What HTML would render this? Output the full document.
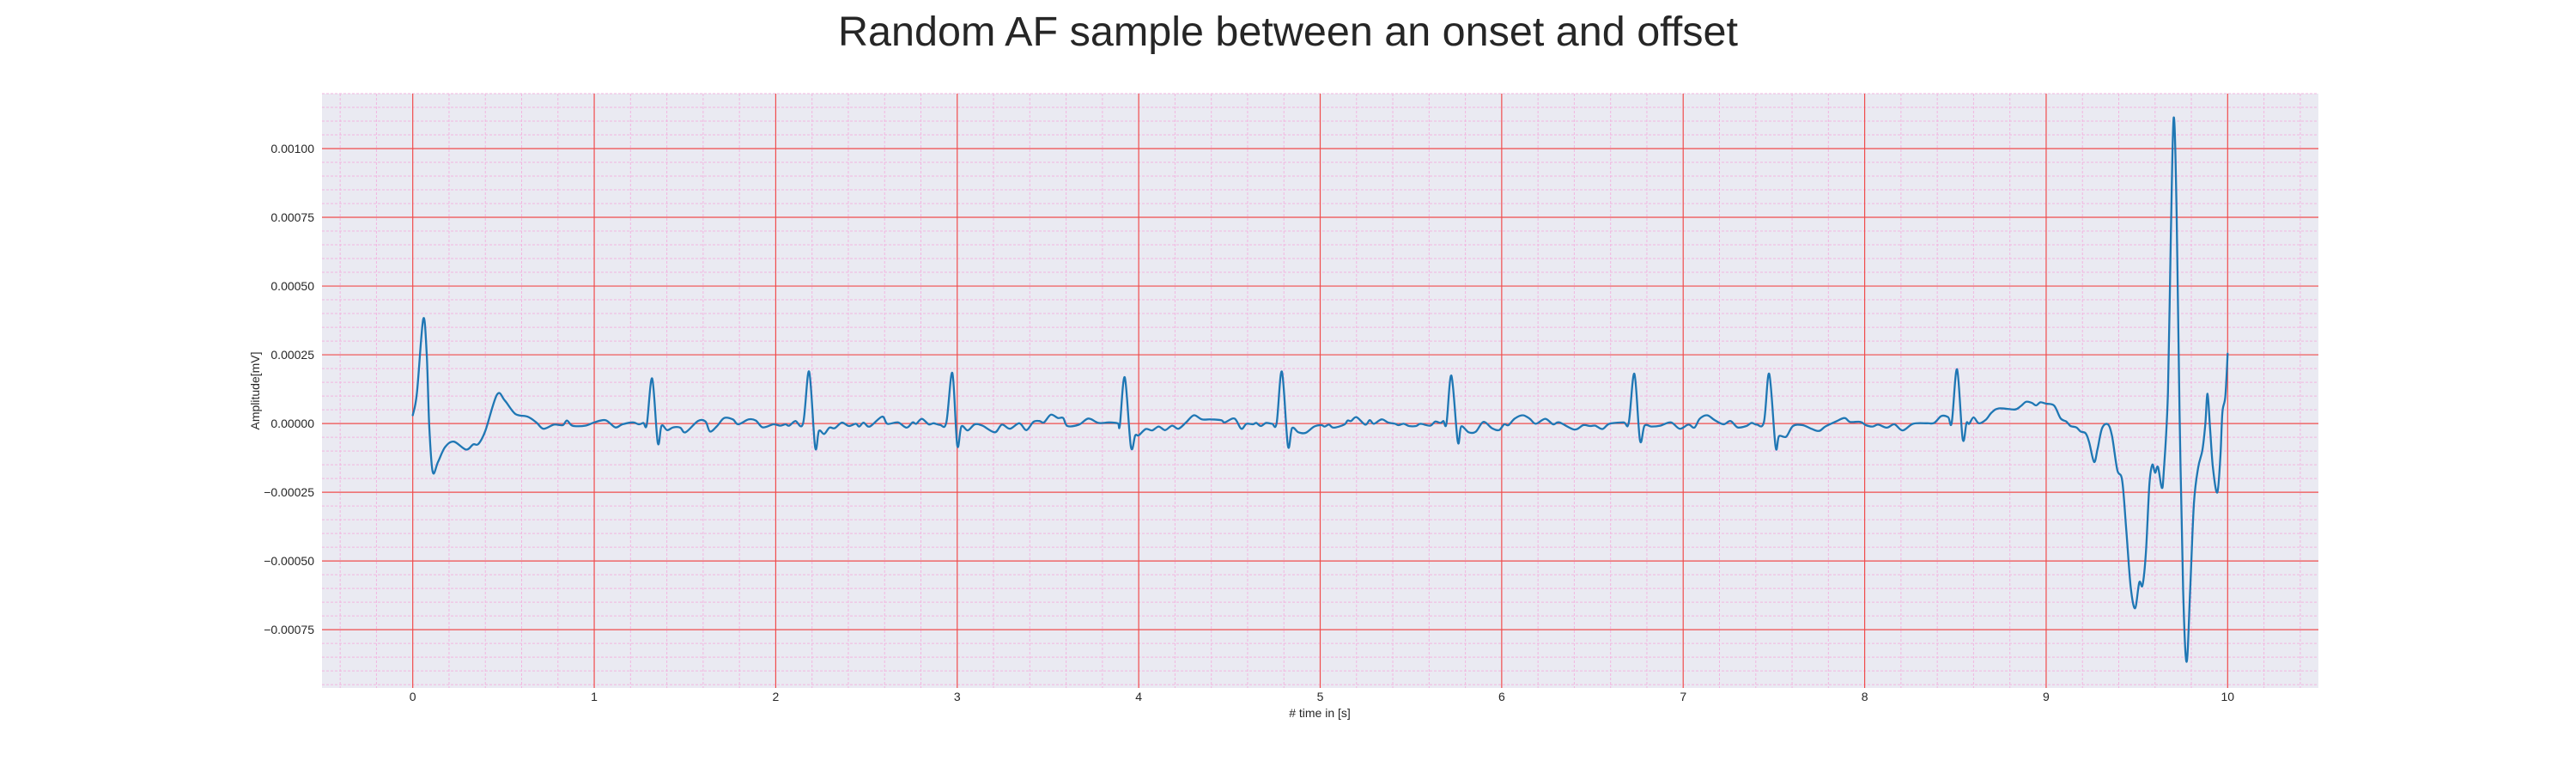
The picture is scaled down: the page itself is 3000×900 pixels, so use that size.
<!DOCTYPE html>
<html><head><meta charset="utf-8"><style>
html,body{margin:0;padding:0;background:#fff;}
svg{display:block;font-family:"Liberation Sans","DejaVu Sans",sans-serif;}
</style></head><body>
<svg id="chart" width="3000" height="900" viewBox="0 0 3000 900" xmlns="http://www.w3.org/2000/svg">
<text x="1500" y="53" text-anchor="middle" font-size="48.5" fill="#262626">Random AF sample between an onset and offset</text>
<rect x="375" y="109" width="2325" height="692" fill="#eaeaf2"/>
<g id="minor"></g>
<g id="major"></g>
<g id="ticks"></g>
<g id="series"></g>
<text x="1537" y="835" text-anchor="middle" font-size="14" fill="#262626"># time in [s]</text>
<text transform="translate(302,455) rotate(-90)" text-anchor="middle" font-size="14" fill="#262626">Amplitude[mV]</text>
</svg>
<script>
// data (amplitude in units of 1e-4 mV)
const times = [0,0.023,0.058,0.077,0.091,0.11,0.139,0.178,0.226,0.294,0.333,0.362,0.40,0.464,0.507,0.565,0.632,0.681,0.72,0.778,0.826,0.85,0.88,0.95,1.0,1.062,1.116,1.155,1.213,1.246,1.271,1.29,1.319,1.35,1.371,1.402,1.435,1.474,1.503,1.571,1.613,1.638,1.677,1.716,1.764,1.793,1.851,1.89,1.929,1.987,2.025,2.054,2.074,2.108,2.151,2.184,2.217,2.238,2.267,2.296,2.325,2.364,2.403,2.441,2.46,2.484,2.518,2.586,2.615,2.673,2.721,2.754,2.774,2.805,2.843,2.870,2.905,2.94,2.973,3.0,3.023,3.058,3.097,3.139,3.207,3.246,3.29,3.342,3.381,3.42,3.453,3.478,3.516,3.555,3.584,3.607,3.671,3.723,3.778,3.836,3.884,3.896,3.923,3.957,3.981,4.0,4.039,4.074,4.11,4.145,4.184,4.219,4.261,4.304,4.348,4.397,4.455,4.474,4.528,4.565,4.594,4.629,4.648,4.673,4.702,4.735,4.760,4.789,4.822,4.845,4.88,4.919,4.967,5.006,5.025,5.048,5.074,5.132,5.151,5.170,5.2,5.248,5.273,5.296,5.338,5.373,5.412,5.431,5.46,5.489,5.528,5.553,5.605,5.634,5.663,5.679,5.696,5.723,5.758,5.777,5.818,5.857,5.899,5.946,5.985,6.014,6.037,6.072,6.116,6.155,6.188,6.24,6.284,6.317,6.4,6.449,6.487,6.516,6.555,6.594,6.671,6.700,6.731,6.762,6.787,6.826,6.874,6.932,6.981,7.029,7.062,7.091,7.132,7.174,7.222,7.261,7.300,7.348,7.377,7.406,7.445,7.474,7.509,7.528,7.567,7.605,7.658,7.706,7.749,7.783,7.841,7.889,7.919,7.977,8.006,8.044,8.074,8.122,8.164,8.209,8.267,8.344,8.383,8.422,8.46,8.48,8.509,8.54,8.561,8.576,8.60,8.629,8.668,8.70,8.739,8.826,8.858,8.889,8.921,8.945,8.968,9.0,9.044,9.079,9.111,9.134,9.166,9.19,9.218,9.237,9.264,9.284,9.308,9.34,9.363,9.392,9.419,9.442,9.466,9.49,9.513,9.531,9.55,9.569,9.585,9.6,9.616,9.637,9.648,9.671,9.687,9.703,9.719,9.735,9.755,9.774,9.793,9.814,9.837,9.861,9.877,9.889,9.903,9.919,9.943,9.96,9.971,9.987,10.0];
const amps = [0.3,1.1,3.8,2.5,-0.1,-1.76,-1.4,-0.86,-0.66,-0.95,-0.76,-0.74,-0.27,1.05,0.84,0.35,0.25,0.04,-0.19,-0.04,-0.06,0.11,-0.08,-0.08,0.04,0.12,-0.14,-0.03,0.04,-0.03,0.02,-0.03,1.64,-0.70,-0.08,-0.24,-0.14,-0.15,-0.32,0.09,0.07,-0.29,-0.09,0.2,0.15,-0.03,0.15,0.11,-0.14,-0.03,-0.08,-0.03,-0.08,0.09,0.01,1.89,-0.86,-0.27,-0.38,-0.15,-0.17,0.03,-0.09,-0.01,-0.11,0.03,-0.11,0.25,-0.01,0.04,-0.15,0.04,-0.01,0.17,-0.03,0.01,-0.05,0.04,1.84,-0.79,-0.11,-0.25,-0.03,-0.08,-0.32,-0.04,-0.19,0.01,-0.24,0.06,0.09,0.04,0.32,0.2,0.2,-0.09,-0.04,0.18,0.02,0.04,0.01,-0.06,1.68,-0.84,-0.43,-0.43,-0.2,-0.25,-0.11,-0.24,-0.08,-0.19,0.04,0.3,0.15,0.15,0.12,0.04,0.18,-0.19,-0.01,-0.03,0.02,-0.09,0.02,-0.01,0.02,1.89,-0.81,-0.17,-0.32,-0.34,-0.11,-0.06,-0.11,-0.04,-0.15,-0.04,0.11,0.09,0.23,-0.04,0.12,-0.01,0.15,0.04,-0.01,-0.06,-0.01,-0.09,-0.09,-0.01,-0.08,0.07,0.02,0.09,0.01,1.74,-0.66,-0.11,-0.32,-0.3,0.06,-0.17,-0.24,-0.03,-0.06,0.18,0.3,0.17,-0.01,0.17,-0.03,0.04,-0.22,-0.06,-0.09,-0.08,-0.2,-0.01,0.04,0.02,1.81,-0.61,-0.08,-0.11,-0.08,0.04,-0.19,-0.04,-0.15,0.17,0.3,0.12,-0.03,0.09,-0.14,-0.09,0.02,-0.04,0.06,1.81,-0.84,-0.46,-0.48,-0.09,-0.06,-0.19,-0.27,-0.11,0.07,0.2,0.06,0.06,-0.06,-0.11,-0.04,-0.15,-0.03,-0.25,-0.01,0.01,0.02,0.27,0.23,0.04,1.97,-0.56,0.02,-0.01,0.22,0.01,0.14,0.4,0.55,0.51,0.62,0.79,0.75,0.66,0.77,0.72,0.65,0.19,0.07,-0.09,-0.14,-0.29,-0.36,-0.68,-1.4,-0.9,-0.17,-0.03,-0.46,-1.69,-2.08,-3.93,-5.95,-6.72,-5.78,-5.88,-4.65,-2.2,-1.5,-1.79,-1.58,-2.34,-1.76,1.13,6.91,11.13,7.63,0.4,-6.1,-8.67,-6.1,-2.92,-1.62,-0.97,-0.03,1.08,-0.17,-1.62,-2.51,-1.18,0.4,0.98,2.54];
const xTickValues = [0,1,2,3,4,5,6,7,8,9,10];
const yTickValues = [-0.00075,-0.0005,-0.00025,0,0.00025,0.0005,0.00075,0.001];
const yTickLabels = ["\u22120.00075","\u22120.00050","\u22120.00025","0.00000","0.00025","0.00050","0.00075","0.00100"];

const NS = "http://www.w3.org/2000/svg";
const L = 375, R = 2700, T = 109, B = 801;
const xMin = -0.5, xMax = 10.5, yMin = -0.000962, yMax = 0.0012;
function sx(t){ return L + (t - xMin) / (xMax - xMin) * (R - L); }
function sy(v){ return B - (v - yMin) / (yMax - yMin) * (B - T); }
function mk(tag, attrs, parent){
  const e = document.createElementNS(NS, tag);
  for (const k in attrs) e.setAttribute(k, attrs[k]);
  parent.appendChild(e);
  return e;
}
const minor = document.getElementById('minor');
const major = document.getElementById('major');
const ticks = document.getElementById('ticks');
for (let i = -2; i <= 52; i++) {
  const t = i * 0.2;
  if (i % 5 === 0) continue;
  const x = sx(t);
  if (x < L || x > R) continue;
  const ln = mk('line', {x1:x, x2:x, y1:T, y2:B, stroke:'#f2b6e0', 'stroke-width':1, 'stroke-dasharray':'3,2'}, minor);
  
  
}
for (let i = -20; i <= 25; i++) {
  if (i % 5 === 0) continue;
  const y = sy(i * 0.00005);
  if (y < T || y > B) continue;
  const ln = mk('line', {x1:L, x2:R, y1:y, y2:y, stroke:'#f2b6e0', 'stroke-width':1, 'stroke-dasharray':'3,2'}, minor);
  
  
}
xTickValues.forEach(function(t){
  const x = sx(t);
  const ln = mk('line', {x1:x, x2:x, y1:T, y2:B, stroke:'#f04c4c', 'stroke-width':1.2}, major);
  
  
  const tx = mk('text', {x:x, y:816, 'text-anchor':'middle', 'font-size':14, fill:'#262626'}, ticks);
  tx.textContent = String(t);
  
  
});
yTickValues.forEach(function(v, i){
  const y = sy(v);
  const ln = mk('line', {x1:L, x2:R, y1:y, y2:y, stroke:'#f04c4c', 'stroke-width':1.2}, major);
  
  
  const tx = mk('text', {x:366, y:y + 5, 'text-anchor':'end', 'font-size':14, fill:'#262626'}, ticks);
  tx.textContent = yTickLabels[i];
  
  
});
// smooth series (Catmull-Rom)
const px = times.map(sx);
const py = amps.map(function(a){ return sy(a * 1e-4); });
let d = 'M' + px[0].toFixed(1) + ',' + py[0].toFixed(1);
for (let i = 0; i < px.length - 1; i++) {
  const i0 = Math.max(0, i - 1), i3 = Math.min(px.length - 1, i + 2);
  const c1x = px[i] + (px[i+1] - px[i0]) / 6, c1y = py[i] + (py[i+1] - py[i0]) / 6;
  const c2x = px[i+1] - (px[i3] - px[i]) / 6, c2y = py[i+1] - (py[i3] - py[i]) / 6;
  d += 'C' + c1x.toFixed(1) + ',' + c1y.toFixed(1) + ' ' + c2x.toFixed(1) + ',' + c2y.toFixed(1) + ' ' + px[i+1].toFixed(1) + ',' + py[i+1].toFixed(1);
}
const path = mk('path', {d:d, fill:'none', stroke:'#1f77b4', 'stroke-width':2.3, 'stroke-linejoin':'round', 'stroke-linecap':'round'}, document.getElementById('series'));


</script>
</body></html>
